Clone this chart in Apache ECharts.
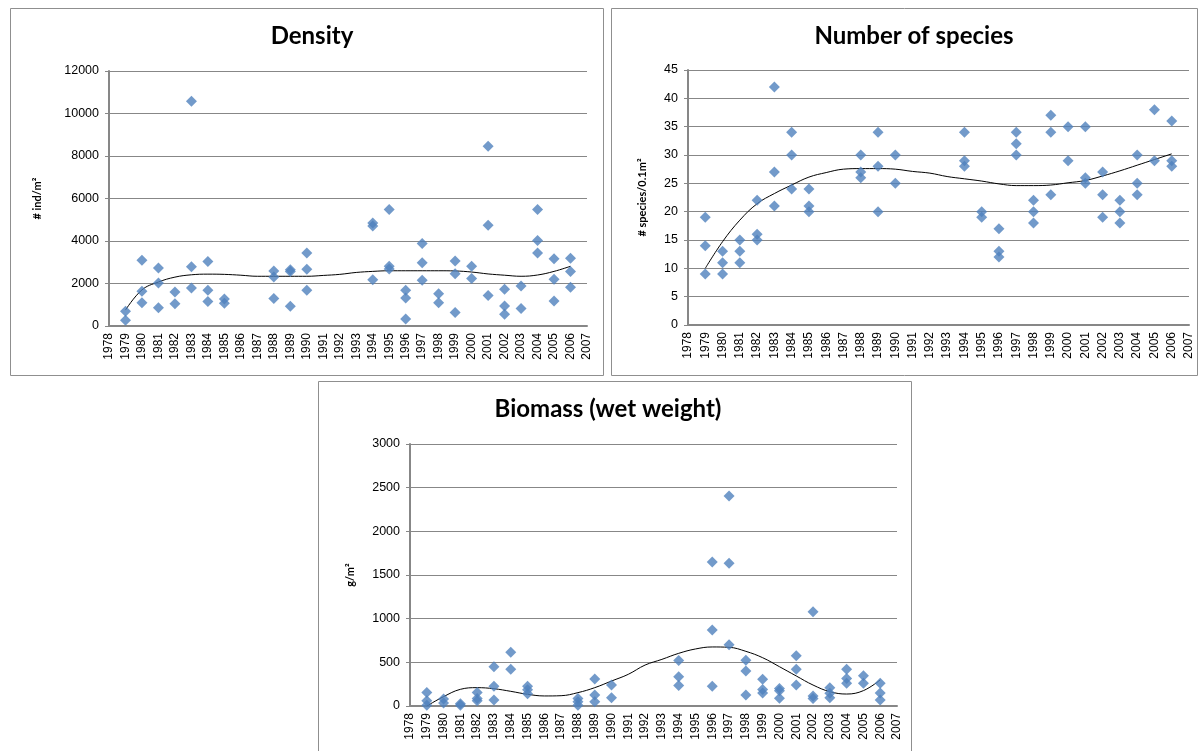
<!DOCTYPE html>
<html>
<head>
<meta charset="utf-8">
<script src="https://cdn.jsdelivr.net/npm/echarts@6/dist/echarts.min.js"></script>
<style>
html,body{margin:0;padding:0;background:#fff;}
#chart{width:1202px;height:751px;}
</style>
</head>
<body>
<div id="chart"></div>
<script>
// ---------- DATA ----------
const xMin = 1978, xMax = 2007;

const densityYears  = [1979,1979,1980,1980,1980,1981,1981,1981,1982,1982,1983,1983,1983,1984,1984,1984,1985,1985,1988,1988,1988,1989,1989,1989,1990,1990,1990,1994,1994,1994,1995,1995,1995,1996,1996,1996,1997,1997,1997,1998,1998,1999,1999,1999,2000,2000,2001,2001,2001,2002,2002,2002,2003,2003,2004,2004,2004,2005,2005,2005,2006,2006,2006];
const densityValues = [700,270,3100,1630,1100,2730,2020,860,1600,1050,10580,2790,1790,3040,1680,1150,1270,1070,2590,2310,1290,2650,2570,930,3440,2670,1680,4850,4710,2180,5480,2810,2680,1680,1320,330,3880,2980,2150,1520,1100,3060,2460,640,2810,2230,8460,4740,1430,1730,940,550,1880,820,5480,4020,3440,3170,2200,1180,3190,2560,1820];

const speciesYears  = [1979,1979,1979,1980,1980,1980,1981,1981,1981,1982,1982,1982,1983,1983,1983,1984,1984,1984,1985,1985,1985,1988,1988,1988,1989,1989,1989,1990,1990,1994,1994,1994,1995,1995,1996,1996,1996,1997,1997,1997,1998,1998,1998,1999,1999,1999,2000,2000,2001,2001,2001,2002,2002,2002,2003,2003,2003,2004,2004,2004,2005,2005,2006,2006,2006];
const speciesValues = [19,14,9,13,11,9,15,13,11,22,16,15,42,27,21,34,30,24,24,21,20,30,27,26,34,28,20,30,25,34,29,28,20,19,17,13,12,34,32,30,22,20,18,37,34,23,35,29,35,26,25,27,23,19,22,20,18,30,25,23,38,29,36,29,28];

const biomassYears  = [1979,1979,1979,1980,1980,1981,1981,1982,1982,1982,1983,1983,1983,1984,1984,1985,1985,1985,1988,1988,1988,1989,1989,1989,1990,1990,1994,1994,1994,1996,1996,1996,1997,1997,1997,1998,1998,1998,1999,1999,1999,2000,2000,2000,2001,2001,2001,2002,2002,2002,2003,2003,2003,2004,2004,2004,2005,2005,2006,2006,2006];
const biomassValues = [155,60,10,80,35,25,10,155,85,60,450,225,70,615,420,225,185,140,85,50,10,310,125,50,240,95,520,335,235,1650,870,225,2405,1635,700,525,400,125,305,190,150,200,175,90,575,420,240,1080,115,85,210,145,95,420,315,260,345,260,260,150,70];

// trend lines (per year)
const trendYears    = [1979,1980,1981,1982,1983,1984,1985,1986,1987,1988,1989,1990,1991,1992,1993,1994,1995,1996,1997,1998,1999,2000,2001,2002,2003,2004,2005,2006];
const densityTrend  = [750,1700,2070,2300,2410,2440,2430,2390,2340,2340,2340,2340,2380,2430,2520,2570,2600,2600,2600,2600,2590,2540,2450,2390,2340,2400,2570,2810];
const speciesTrend  = [10,14.7,18.5,21.4,23.2,24.7,26.1,26.9,27.5,27.6,27.6,27.5,27.1,26.8,26.2,25.8,25.4,24.9,24.6,24.6,24.7,25.1,25.5,26.3,27.2,28.2,29.2,30.2];
const biomassTrend  = [0,107,191,210,198,168,134,115,118,153,210,286,363,469,534,603,653,676,672,626,553,450,344,240,164,137,176,298];

const titles = ['Density', 'Number of species', 'Biomass (wet weight)'];
const yNames = ['# ind/m\u00B2', '# species/0.1m\u00B2', 'g/m\u00B2'];

// ---------- CHART ----------
const pair = (xs, ys) => xs.map((x, i) => [x, ys[i]]);
const blue = '#4F81BD';
const grey = '#878787';
const FONT = '"Liberation Sans", Arial, sans-serif';
const TFONT = 'Lato, "Noto Sans", sans-serif';

const grids = [
  {left: 109, top: 71, width: 478, height: 255},
  {left: 688, top: 70, width: 501, height: 255},
  {left: 410, top: 444, width: 487, height: 262}
];
const yCfg = [
  {max: 12000, interval: 2000, gap: 66},
  {max: 45, interval: 5, gap: 40},
  {max: 3000, interval: 500, gap: 54}
];

const xAxes = grids.map((g, i) => ({
  type: 'value', gridIndex: i, min: xMin, max: xMax, interval: 1,
  axisLine: {show: true, lineStyle: {color: grey, width: 2}},
  axisTick: {show: false},
  splitLine: {show: false},
  axisLabel: {rotate: 90, margin: 7, color: '#000', fontSize: 12, fontFamily: FONT,
              formatter: v => String(v)}
}));
const yAxes = grids.map((g, i) => ({
  type: 'value', gridIndex: i, min: 0, max: yCfg[i].max, interval: yCfg[i].interval,
  name: yNames[i], nameLocation: 'middle', nameGap: yCfg[i].gap, nameRotate: 90,
  nameTextStyle: {fontWeight: 'bold', fontSize: 11, fontFamily: TFONT, color: '#000'},
  axisLine: {show: true, lineStyle: {color: grey, width: 2}},
  axisTick: {show: true, length: 4, lineStyle: {color: grey}},
  splitLine: {show: true, lineStyle: {color: grey, width: 1}},
  axisLabel: {margin: 10, color: '#000', fontSize: 12.5, fontFamily: FONT,
              formatter: v => String(v)}
}));

const scatterData = [pair(densityYears, densityValues), pair(speciesYears, speciesValues), pair(biomassYears, biomassValues)];
const trendData = [pair(trendYears, densityTrend), pair(trendYears, speciesTrend), pair(trendYears, biomassTrend)];

const series = [];
for (let i = 0; i < 3; i++) {
  series.push({
    type: 'line', xAxisIndex: i, yAxisIndex: i, data: trendData[i], smooth: 0.4,
    showSymbol: false, lineStyle: {color: '#000', width: 1}, z: 3, animation: false
  });
  series.push({
    type: 'scatter', xAxisIndex: i, yAxisIndex: i, data: scatterData[i],
    symbol: 'diamond', symbolSize: [11, 11], itemStyle: {color: blue}, z: 4, animation: false
  });
}

const titleCenters = [[307, 19], [909, 19], [603, 392]];
const option = {
  backgroundColor: '#fff',
  animation: false,
  title: titles.map((t, i) => ({
    text: t, left: titleCenters[i][0], top: titleCenters[i][1], textAlign: 'center',
    textStyle: {fontFamily: TFONT, fontWeight: 'bold', fontSize: 24, color: '#000'}
  })),
  graphic: [
    {type: 'rect', shape: {x: 10.5, y: 8.5, width: 593, height: 367}, style: {fill: 'none', stroke: '#8f8f8f', lineWidth: 1}, z: -1},
    {type: 'rect', shape: {x: 611.5, y: 8.5, width: 586, height: 367}, style: {fill: 'none', stroke: '#8f8f8f', lineWidth: 1}, z: -1},
    {type: 'rect', shape: {x: 318.5, y: 381.5, width: 593, height: 380}, style: {fill: 'none', stroke: '#8f8f8f', lineWidth: 1}, z: -1}
  ],
  grid: grids,
  xAxis: xAxes,
  yAxis: yAxes,
  series: series
};

const chart = echarts.init(document.getElementById('chart'), null, {renderer: 'canvas'});
chart.setOption(option);
</script>
</body>
</html>
